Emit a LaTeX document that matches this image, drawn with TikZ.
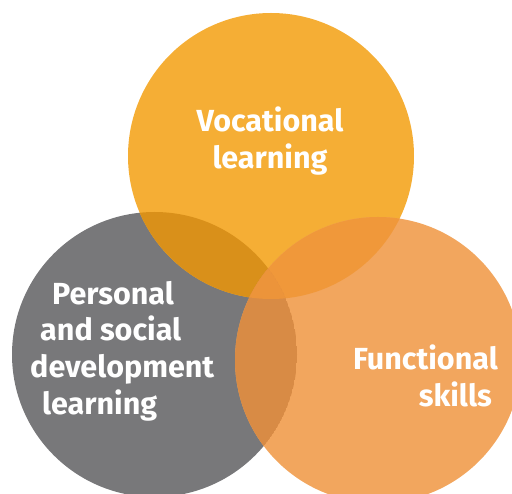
\documentclass[tikz,border=0pt]{standalone}
\usepackage{fontspec}
\setmainfont{Fira Sans}
\usetikzlibrary{positioning}

\definecolor{vocorange}{RGB}{245,174,53}
\definecolor{persgrey}{RGB}{120,120,122}
\definecolor{funcorange}{RGB}{242,166,94}
\definecolor{vocpers}{RGB}{217,144,26}
\definecolor{persfunc}{RGB}{216,139,69}
\definecolor{vocfunc}{RGB}{240,152,58}
\definecolor{allthree}{RGB}{236,148,58}

\begin{document}
\begin{tikzpicture}[
    % GLOBAL CFG
    x=1pt, y=-1pt,
    % Styles
    setlabel/.style={% For the white texts
        text=white,
        font=\fontsize{30.5}{37}\selectfont\bfseries,
        inner sep=0pt,
        },
    ]

    \useasboundingbox (0,0) rectangle (512,494);

    % Centres of the three sets
    \coordinate (voc) at (271,156);
    \coordinate (pers) at (154.5,354.5);
    \coordinate (func) at (378,360);

    % Draw the sets
    \fill [persgrey] (pers) circle (142.5);
    \fill [vocorange] (voc) circle (143);
    \fill [funcorange] (func) circle (143);

    % Draw the overlaps
    \begin{scope}
        \clip (voc) circle (143);
        \fill [vocpers] (pers) circle (142.5);
        \fill [vocfunc] (func) circle (143);
        \clip (pers) circle (142.5);
        \fill [allthree] (func) circle (143);
    \end{scope}
    \begin{scope}
        \clip (pers) circle (142.5);
        \clip (func) circle (143);
        \fill [persfunc] (pers) circle (142.5);
        \clip (voc) circle (143);
        \fill [allthree] (func) circle (143);
    \end{scope}

    % Labels (base anchor sits on the last line)
    \node [setlabel, align=center, anchor=base] (voclabel) at (270,169) {Vocational\\learning};
    \node [setlabel, align=left, anchor=base west] (perslabel) at (30,415)
        {\hspace*{22pt}Personal\\\hspace*{10pt}and social\\development\\\hspace*{12pt}learning};
    \node [setlabel, align=right, anchor=base east] (funclabel) at (498,407) {Functional\\skills\hspace*{6pt}};

\end{tikzpicture}
\end{document}
